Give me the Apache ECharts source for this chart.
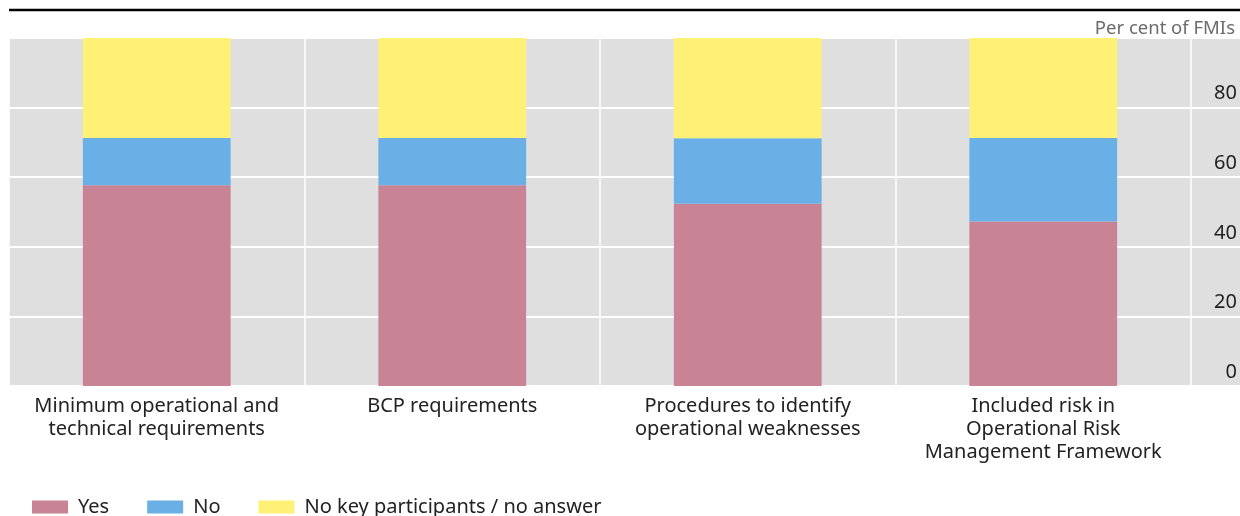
<!DOCTYPE html>
<html>
<head>
<meta charset="utf-8">
<script src="https://cdn.jsdelivr.net/npm/echarts@6/dist/echarts.min.js"></script>
<style>
  html, body { margin: 0; padding: 0; background: #fff; }
  #chart { width: 1240px; height: 516px; }
</style>
</head>
<body>
<div id="chart"></div>
<script>
  const categories = [
    'Minimum operational and\ntechnical requirements',
    'BCP requirements',
    'Procedures to identify\noperational weaknesses',
    'Included risk in\nOperational Risk\nManagement Framework'
  ]
  const yesValues = [57.7, 57.7, 52.4, 47.3]
  const noValues = [13.6, 13.6, 18.8, 24.0]
  const naValues = [28.7, 28.7, 28.8, 28.7]
  const yTicks = [0, 20, 40, 60, 80]

  const fontFamily = '"Noto Sans", "Open Sans", sans-serif'
  const gray = '#dfdfdf'

  const chart = echarts.init(document.getElementById('chart'))
  chart.setOption({
    animation: false,
    textStyle: { fontFamily: fontFamily },
    title: {
      text: 'Per cent of FMIs',
      right: 0,
      top: 14,
      textStyle: { fontSize: 18.5, fontWeight: 'normal', color: '#6b6b6b', fontFamily: fontFamily }
    },
    graphic: [{
      type: 'line',
      shape: { x1: 9, y1: 10, x2: 1240, y2: 10 },
      style: { stroke: '#000', lineWidth: 2.5 }
    }],
    legend: {
      left: 27,
      bottom: -6,
      itemWidth: 36,
      itemHeight: 13,
      itemGap: 38,
      icon: 'rect',
      textStyle: { fontSize: 20, color: '#222', fontFamily: fontFamily, padding: [0, 0, 0, 5] },
      data: ['Yes', 'No', 'No key participants / no answer']
    },
    grid: [
      { left: 9, right: 49, top: 38, bottom: 130, show: true, backgroundColor: gray, borderWidth: 0 },
      { left: 1191, right: 0, top: 38, bottom: 130, show: true, backgroundColor: gray, borderWidth: 0 }
    ],
    xAxis: [{
      type: 'category',
      gridIndex: 0,
      data: categories,
      axisLine: { show: false },
      axisTick: { show: false },
      splitLine: { show: true, lineStyle: { color: '#fff', width: 1.5 } },
      axisLabel: { fontSize: 20, color: '#222', lineHeight: 23, margin: 9, interval: 0 }
    }, {
      type: 'value',
      gridIndex: 1,
      show: false
    }],
    yAxis: [{
      type: 'value',
      gridIndex: 0,
      min: 0,
      max: 100,
      interval: 20,
      axisLabel: { show: false },
      axisLine: { show: false },
      axisTick: { show: false },
      splitLine: { lineStyle: { color: '#fff', width: 2 } }
    }, {
      type: 'value',
      gridIndex: 1,
      position: 'left',
      min: 0,
      max: 100,
      interval: 20,
      axisLine: { show: false },
      axisTick: { show: false },
      splitLine: { lineStyle: { color: '#fff', width: 2 } },
      axisLabel: {
        inside: true,
        margin: 46,
        align: 'right',
        verticalAlign: 'bottom',
        padding: [0, 0, 4, 0],
        fontSize: 20,
        color: '#222',
        formatter: function (v) { return yTicks.indexOf(v) >= 0 ? String(v) : '' }
      }
    }],
    series: [
      { name: 'Yes', type: 'bar', stack: 'all', barWidth: '50%', data: yesValues, itemStyle: { color: '#c88394' } },
      { name: 'No', type: 'bar', stack: 'all', data: noValues, itemStyle: { color: '#6aafe6' } },
      { name: 'No key participants / no answer', type: 'bar', stack: 'all', data: naValues, itemStyle: { color: '#fff176' } }
    ]
  })
</script>
</body>
</html>
